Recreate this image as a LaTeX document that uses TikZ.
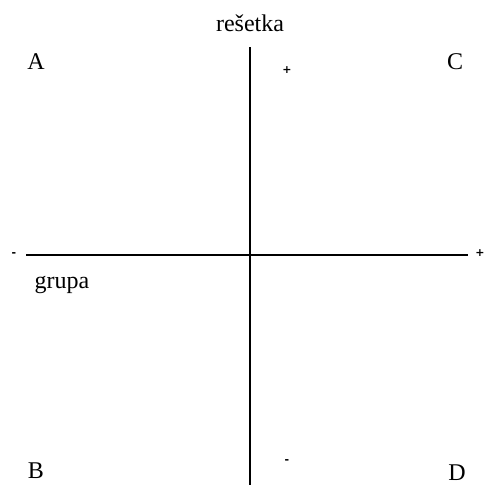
\documentclass[tikz,border=0pt]{standalone}
\usepackage{fontspec}
\setmainfont{Liberation Serif}
\newfontfamily\signfont{DejaVu Sans}
\usepackage{tikz}
\usetikzlibrary{positioning}

\begin{document}
\begin{tikzpicture}[x=1pt, y=-1pt,
            lbl/.style={inner sep=0pt, anchor=base, font=\fontsize{24}{28}\selectfont},
            sgn/.style={inner sep=0pt, font=\fontsize{11}{13}\selectfont\signfont\bfseries},
            axis/.style={line width=2.5pt, black}]
            \useasboundingbox (0,0) rectangle (484,485);
            % axes
            \coordinate (top) at (250,47);
            \coordinate (bot) at (250,485);
            \coordinate (lft) at (26,255);
            \coordinate (rgt) at (468,255);
            \draw[axis] (top)--(bot);
            \draw[axis] (lft)--(rgt);
            % axis names
            \node[lbl] (resetka) at (250,31) {rešetka};
            \node[lbl] (grupa) at (62,288) {grupa};
            % signs
            \node[sgn] (ptop) at (287,70) {+};
            \node[sgn] (mbot) at (287,462) {-};
            \node[sgn] (mlft) at (14,255) {-};
            \node[sgn] (prgt) at (480,253) {+};
            % quadrants
            \node[lbl] (A) at (36,69) {A};
            \node[lbl] (C) at (455,69) {C};
            \node[lbl] (B) at (36,478) {B};
            \node[lbl] (D) at (457,480) {D};
        \end{tikzpicture}
\end{document}
